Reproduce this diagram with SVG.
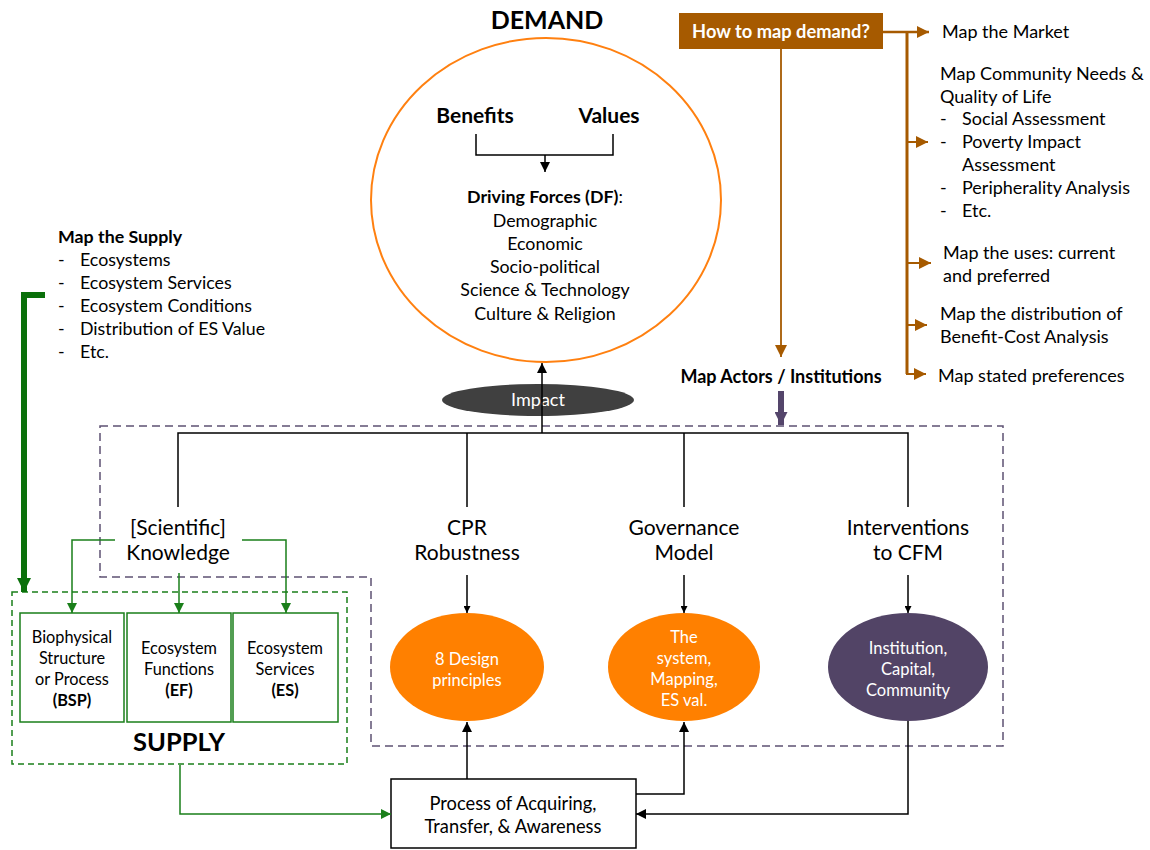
<svg xmlns="http://www.w3.org/2000/svg" width="1150" height="850" viewBox="0 0 1150 850">
<defs>
<style>
text{font-family:Lato,"Open Sans","Liberation Sans",sans-serif;fill:#000}
.t16{font-size:17.8px}
.r18{font-size:18px}
.t19{font-size:21px}
.e{font-size:16.5px}
.bx{font-size:16.3px}
.b{font-weight:bold}
.w{fill:#fff}
.c{text-anchor:middle}
.blk{stroke:#000;stroke-width:1.5;fill:none}
.brn{stroke:#a65a00;fill:none}
.grn{stroke:#1a7f1a;stroke-width:1.5;fill:none}
</style>
<marker id="ab" viewBox="0 0 10 10" refX="10" refY="5" markerWidth="7" markerHeight="7" markerUnits="userSpaceOnUse" orient="auto"><path d="M0,0L10,5L0,10z" fill="#000"/></marker>
<marker id="ab2" viewBox="0 0 10 10" refX="10" refY="5" markerWidth="10" markerHeight="10" markerUnits="userSpaceOnUse" orient="auto"><path d="M0,0L10,5L0,10z" fill="#000"/></marker>
<marker id="ag" viewBox="0 0 10 10" refX="10" refY="5" markerWidth="10" markerHeight="10" markerUnits="userSpaceOnUse" orient="auto"><path d="M0,0L10,5L0,10z" fill="#1a7f1a"/></marker>
<marker id="agT" viewBox="0 0 10 10" refX="10" refY="5" markerWidth="14" markerHeight="14" markerUnits="userSpaceOnUse" orient="auto"><path d="M0,0L10,5L0,10z" fill="#0a700a"/></marker>
<marker id="abr" viewBox="0 0 10 10" refX="10" refY="5" markerWidth="12" markerHeight="12" markerUnits="userSpaceOnUse" orient="auto"><path d="M0,0L10,5L0,10z" fill="#a65a00"/></marker>
<marker id="ap" viewBox="0 0 10 10" refX="10" refY="5" markerWidth="13" markerHeight="13" markerUnits="userSpaceOnUse" orient="auto"><path d="M0,0L10,5L0,10z" fill="#54456b"/></marker>
</defs>

<g id="demand">
<text x="547" y="29" class="b c" style="font-size:25px">DEMAND</text>
<ellipse cx="546" cy="200" rx="175" ry="162" fill="#fff" stroke="#ff8010" stroke-width="2"/>
<text x="475" y="123" class="t19 b c">Benefits</text>
<text x="609" y="123" class="t19 b c">Values</text>
<path class="blk" d="M476,134V155H613V134"/>
<path class="blk" d="M545,155V172" marker-end="url(#ab2)"/>
<text x="545" y="203" class="t16 c"><tspan class="b">Driving Forces (DF)</tspan>:</text>
<text x="545" y="227" class="t16 c">Demographic</text>
<text x="545" y="250" class="t16 c">Economic</text>
<text x="545" y="273" class="t16 c">Socio-political</text>
<text x="545" y="296" class="t16 c">Science &amp; Technology</text>
<text x="545" y="320" class="t16 c">Culture &amp; Religion</text>
</g>

<g id="impact">
<ellipse cx="538" cy="400" rx="96" ry="16" fill="#404040"/>
<text x="538" y="406" class="r18 c w">Impact</text>
</g>

<g id="how-to-map">
<rect x="679" y="13" width="204" height="36" fill="#a65a00"/>
<text x="781" y="38" class="b c w" style="font-size:18.3px">How to map demand?</text>
</g>

<g id="demand-list">
<text x="942" y="38" class="r18">Map the Market</text>
<text x="940" y="80" class="r18">Map Community Needs &amp;</text>
<text x="940" y="103" class="r18">Quality of Life</text>
<text x="940" y="125" class="r18">-</text><text x="962" y="125" class="r18">Social Assessment</text>
<text x="940" y="148" class="r18">-</text><text x="962" y="148" class="r18">Poverty Impact</text>
<text x="962" y="171" class="r18">Assessment</text>
<text x="940" y="194" class="r18">-</text><text x="962" y="194" class="r18">Peripherality Analysis</text>
<text x="940" y="217" class="r18">-</text><text x="962" y="217" class="r18">Etc.</text>
<text x="943" y="259" class="r18">Map the uses: current</text>
<text x="943" y="282" class="r18">and preferred</text>
<text x="940" y="320" class="r18">Map the distribution of</text>
<text x="940" y="343" class="r18">Benefit-Cost Analysis</text>
<text x="938" y="382" class="r18">Map stated preferences</text>
</g>

<g id="map-actors">
<text x="781" y="383" class="r18 b c">Map Actors / Institutions</text>
</g>

<g id="supply-list">
<text x="58" y="243" class="t16 b">Map the Supply</text>
<text x="58" y="266" class="t16">-</text><text x="80" y="266" class="t16">Ecosystems</text>
<text x="58" y="289" class="t16">-</text><text x="80" y="289" class="t16">Ecosystem Services</text>
<text x="58" y="312" class="t16">-</text><text x="80" y="312" class="t16">Ecosystem Conditions</text>
<text x="58" y="335" class="t16">-</text><text x="80" y="335" class="t16">Distribution of ES Value</text>
<text x="58" y="358" class="t16">-</text><text x="80" y="358" class="t16">Etc.</text>
</g>

<g id="institutional-frame">
<path d="M100,426H1003V746H371V577H100Z" fill="none" stroke="#5e5273" stroke-width="1.5" stroke-dasharray="8,5"/>
</g>

<g id="knowledge">
<text x="178" y="535" class="t19 c">[Scientific]</text>
<text x="178" y="560" class="t19 c">Knowledge</text>
</g>
<g id="cpr">
<text x="467" y="535" class="t19 c">CPR</text>
<text x="467" y="560" class="t19 c">Robustness</text>
</g>
<g id="governance">
<text x="684" y="535" class="t19 c">Governance</text>
<text x="684" y="560" class="t19 c">Model</text>
</g>
<g id="interventions">
<text x="908" y="535" class="t19 c">Interventions</text>
<text x="908" y="560" class="t19 c">to CFM</text>
</g>

<g id="design-principles">
<ellipse cx="467" cy="667" rx="77" ry="54" fill="#ff8000"/>
<text x="467" y="665" class="e c w">8 Design</text>
<text x="467" y="686" class="e c w">principles</text>
</g>
<g id="system-mapping">
<ellipse cx="684" cy="667" rx="76" ry="54" fill="#ff8000"/>
<text x="684" y="643" class="e c w">The</text>
<text x="684" y="664" class="e c w">system,</text>
<text x="684" y="685" class="e c w">Mapping,</text>
<text x="684" y="706" class="e c w">ES val.</text>
</g>
<g id="institution-capital">
<ellipse cx="908" cy="667" rx="80" ry="54" fill="#524466"/>
<text x="908" y="654" class="e c w">Institution,</text>
<text x="908" y="675" class="e c w">Capital,</text>
<text x="908" y="696" class="e c w">Community</text>
</g>

<g id="supply">
<rect x="12" y="592" width="335" height="172" fill="none" stroke="#1a7f1a" stroke-width="1.5" stroke-dasharray="6,4"/>
<text x="179" y="751" class="b c" style="font-size:25.5px">SUPPLY</text>
</g>
<g id="bsp">
<rect x="20" y="613" width="104" height="109" fill="#fff" stroke="#1a7f1a" stroke-width="1.5"/>
<text x="72" y="643" class="bx c">Biophysical</text>
<text x="72" y="664" class="bx c">Structure</text>
<text x="72" y="685" class="bx c">or Process</text>
<text x="72" y="706" class="bx b c">(BSP)</text>
</g>
<g id="ef">
<rect x="127" y="613" width="104" height="109" fill="#fff" stroke="#1a7f1a" stroke-width="1.5"/>
<text x="179" y="654" class="bx c">Ecosystem</text>
<text x="179" y="675" class="bx c">Functions</text>
<text x="179" y="696" class="bx b c">(EF)</text>
</g>
<g id="es">
<rect x="233" y="613" width="105" height="109" fill="#fff" stroke="#1a7f1a" stroke-width="1.5"/>
<text x="285" y="654" class="bx c">Ecosystem</text>
<text x="285" y="675" class="bx c">Services</text>
<text x="285" y="696" class="bx b c">(ES)</text>
</g>

<g id="process">
<rect x="391" y="779" width="245" height="69" fill="#fff" stroke="#000" stroke-width="1.5"/>
<text x="513" y="810" class="c" style="font-size:18.3px">Process of Acquiring,</text>
<text x="513" y="833" class="c" style="font-size:18.3px">Transfer, &amp; Awareness</text>
</g>

<g id="connectors">
<path class="blk" d="M542,433V363" marker-end="url(#ab2)"/>
<path class="blk" d="M178,507V433H908V507M467,433V507M684,433V507"/>
<path class="blk" d="M467,575V613" marker-end="url(#ab)"/>
<path class="blk" d="M684,575V613" marker-end="url(#ab)"/>
<path class="blk" d="M908,575V613" marker-end="url(#ab)"/>
<path class="blk" d="M467,779V722" marker-end="url(#ab2)"/>
<path class="blk" d="M636,794H684V722" marker-end="url(#ab2)"/>
<path class="blk" d="M908,721V814H636" marker-end="url(#ab2)"/>
<path class="grn" d="M115,540H72V613" marker-end="url(#ag)"/>
<path class="grn" d="M242,540H286V613" marker-end="url(#ag)"/>
<path class="grn" d="M179,573V613" marker-end="url(#ag)"/>
<path class="grn" d="M180,765V814H391" marker-end="url(#ag)"/>
<path d="M45,295H24V592" fill="none" stroke="#0a700a" stroke-width="6" marker-end="url(#agT)"/>
<path class="brn" stroke-width="2.5" d="M883,32H929" marker-end="url(#abr)"/>
<path class="brn" stroke-width="3" d="M907,32V374"/>
<path class="brn" stroke-width="2" d="M907,142H928" marker-end="url(#abr)"/>
<path class="brn" stroke-width="2" d="M907,263H931" marker-end="url(#abr)"/>
<path class="brn" stroke-width="2" d="M907,325H927" marker-end="url(#abr)"/>
<path class="brn" stroke-width="2" d="M906,374H926" marker-end="url(#abr)"/>
<path class="brn" stroke-width="1.8" d="M781,49V357" marker-end="url(#abr)"/>
<path d="M781,391V425" fill="none" stroke="#54456b" stroke-width="6" marker-end="url(#ap)"/>
</g>
</svg>
